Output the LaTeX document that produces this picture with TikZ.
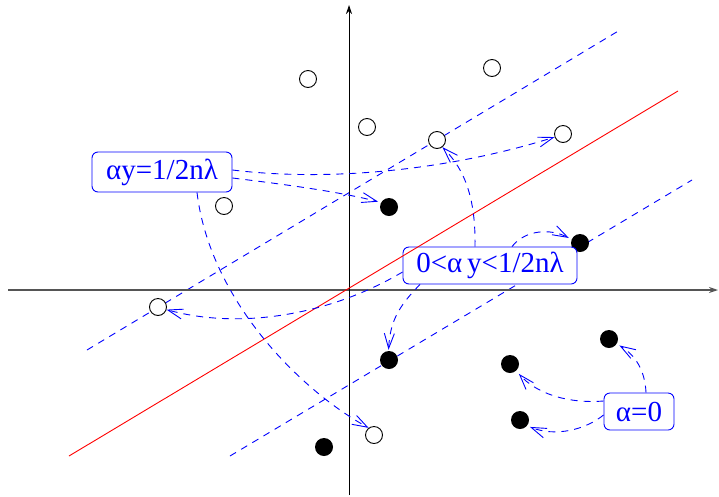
\documentclass[tikz,border=0pt]{standalone}
\usepackage{fontspec}
\setmainfont{Liberation Serif}
\usetikzlibrary{arrows.meta}
\definecolor{bl}{RGB}{0,0,255}
\definecolor{rd}{RGB}{255,0,0}
\definecolor{axgray}{RGB}{85,85,85}
\tikzset{
  opn/.style={circle,draw=black,fill=white,line width=0.9pt,minimum size=17pt,inner sep=0pt},
  dot/.style={circle,fill=black,minimum size=18pt,inner sep=0pt},
  bdash/.style={draw=bl,line width=0.9pt,dash pattern=on 7pt off 6pt},
  conn/.style={bdash,-{Straight Barb[length=15pt,width=10pt,line width=0.9pt]}},
  lbl/.style={draw=bl,fill=white,text=bl,line width=0.9pt,rounded corners=6pt,inner sep=0pt,
    font=\fontsize{29}{33}\selectfont},
  axarr/.style={-{Stealth[length=9pt,width=6pt]}}
}
\begin{document}
\begin{tikzpicture}[x=1pt,y=-1pt]
\useasboundingbox (0,0) rectangle (719,496);
% coordinates for lines
\coordinate (xl) at (8,290);
\coordinate (xr) at (718,290);
\coordinate (yb) at (349,495);
\coordinate (yt) at (349,5);
\coordinate (ua) at (87,350);
\coordinate (ub) at (620,30);
\coordinate (la) at (230,456);
\coordinate (lb) at (692,180);
\coordinate (ra) at (69,456);
\coordinate (rb) at (678,91);
% margin lines
\draw[bdash] (ua) -- (ub);
\draw[bdash] (la) -- (lb);
% axes
\draw[axgray,line width=1.3pt,axarr] (xl) -- (xr);
\draw[black,line width=0.9pt,axarr] (yb) -- (yt);
% circles
\node[opn] (o1) at (308,79) {};
\node[opn] (o2) at (492,68) {};
\node[opn] (o3) at (367,127) {};
\node[opn] (o4) at (437,140) {};
\node[opn] (o5) at (563,134) {};
\node[opn] (o6) at (224,206) {};
\node[opn] (o7) at (158,307) {};
\node[opn] (o8) at (374,435) {};
\node[dot] (f1) at (389,207) {};
\node[dot] (f2) at (580,243) {};
\node[dot] (f3) at (389,360) {};
\node[dot] (f4) at (510,364) {};
\node[dot] (f5) at (609,339) {};
\node[dot] (f6) at (520,420) {};
\node[dot] (f7) at (324,447) {};
% label boxes
\node[lbl,minimum width=140pt,minimum height=40pt] (b1) at (162,172) {αy=1/2nλ};
\node[lbl,minimum width=174pt,minimum height=37pt] (b2) at (490,265.5) {0<α\,y<1/2nλ};
\node[lbl,minimum width=70pt,minimum height=37pt] (b3) at (639,411.5) {α=0};
% red separating line
\draw[rd,line width=0.9pt] (ra) -- (rb);
% connectors
\draw[conn] ([yshift=2pt]b1.east) .. controls (330,182) and (450,170) .. (o5.200);
\draw[conn,shorten >=3pt] ([yshift=-6pt]b1.east) .. controls (290,185) and (340,192) .. (f1.150);
\draw[conn] ([xshift=35pt]b1.south) .. controls (210,300) and (300,390) .. (o8.127);
\draw[conn] ([xshift=-15pt]b2.north) .. controls (476,190) and (460,165) .. (o4.-53);
\draw[conn,shorten >=3pt] ([xshift=22pt]b2.north) .. controls (525,230) and (550,228) .. (f2.157);
\draw[conn,shorten >=1pt] ([xshift=-70pt]b2.south) .. controls (400,305) and (390,320) .. (f3.93);
\draw[conn] ([yshift=-6.5pt]b2.west) .. controls (330,315) and (240,330) .. (o7.-17);
\draw[conn,shorten >=3pt] ([xshift=7pt]b3.north) .. controls (645,370) and (635,355) .. (f5.-32);
\draw[conn,shorten >=4pt] ([yshift=10.5pt]b3.west) .. controls (565,404) and (535,392) .. (f4.-48);
\draw[conn,shorten >=3pt] ([yshift=-3.5pt]b3.west) .. controls (585,430) and (555,437) .. (f6.-39);
\end{tikzpicture}
\end{document}
